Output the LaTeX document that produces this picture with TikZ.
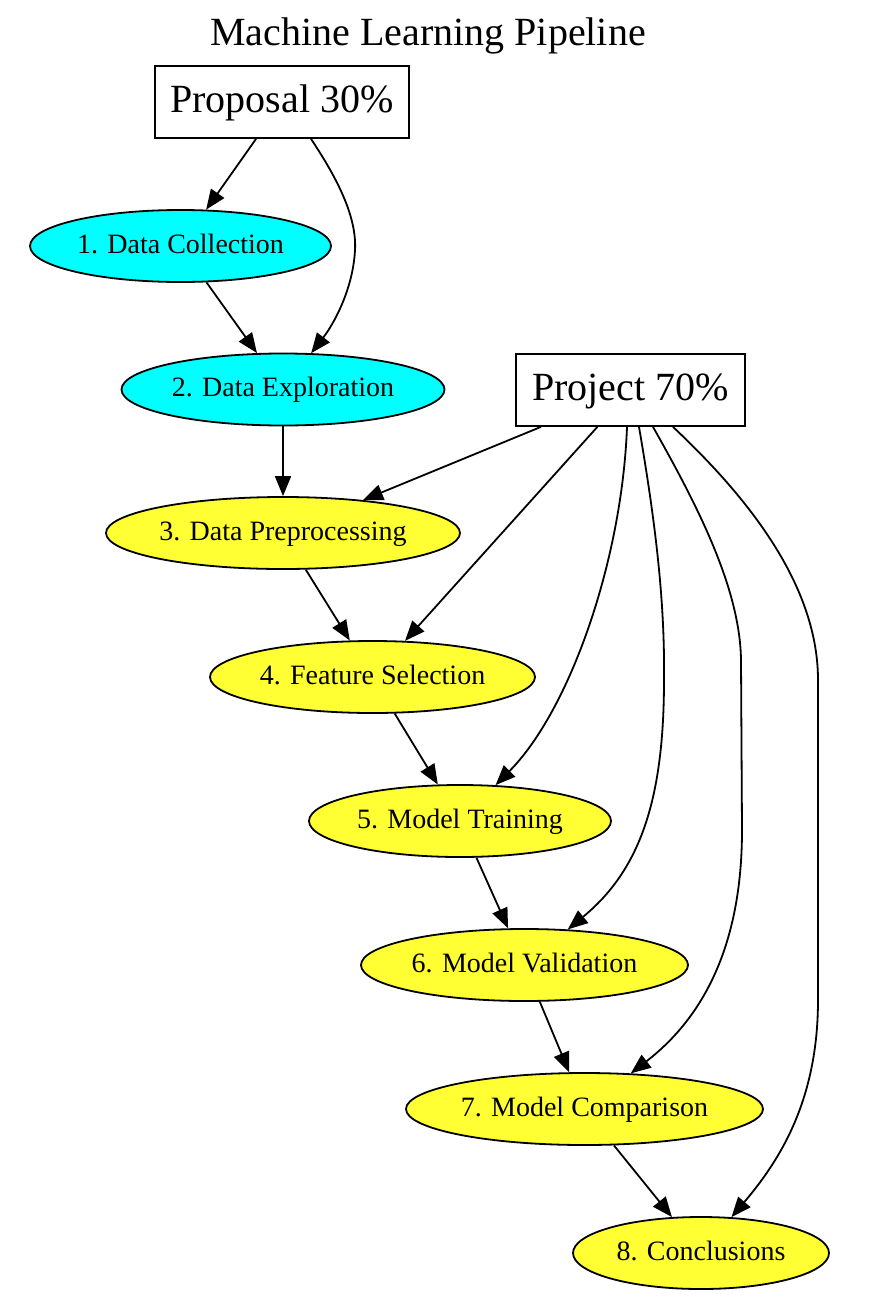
\documentclass[tikz,border=0pt]{standalone}
\usepackage{fontspec}
\setmainfont{Liberation Serif}
\usetikzlibrary{shapes.geometric, arrows.meta}
\definecolor{stagecyan}{RGB}{0,255,255}
\definecolor{stageyellow}{RGB}{255,255,51}

\begin{document}
\begin{tikzpicture}[x=1pt, y=-1pt, line width=1.8pt,
  stage/.style={draw, ellipse, inner sep=0pt, minimum height=72pt,
    text height=19pt, text depth=5pt, font=\fontsize{28}{34}\selectfont},
  part/.style={draw, rectangle, inner sep=0pt, minimum height=72pt,
    text height=28pt, text depth=8pt, font=\fontsize{40}{48}\selectfont},
  flow/.style={-{Triangle[length=20pt, width=16pt]}}]
  \useasboundingbox (0,0) rectangle (884,1304);
  %
  \node[text height=28pt, text depth=8pt, font=\fontsize{40}{48}\selectfont] (title) at (428,35) {Machine Learning Pipeline};
  \node[part, minimum width=254pt] (pp) at (282,102) {Proposal 30\%};
  \node[part, minimum width=229pt] (pj) at (630.5,390) {Project 70\%};
  %
  \node[stage, fill=stagecyan, minimum width=301pt] (dc) at (180.5,246) {1. Data Collection};
  \node[stage, fill=stagecyan, minimum width=323pt] (de) at (283,389.5) {2. Data Exploration};
  \node[stage, fill=stageyellow, minimum width=354pt] (dp) at (283,533) {3. Data Preprocessing};
  \node[stage, fill=stageyellow, minimum width=325pt] (fs) at (372.5,677) {4. Feature Selection};
  \node[stage, fill=stageyellow, minimum width=302pt] (mt) at (460,821) {5. Model Training};
  \node[stage, fill=stageyellow, minimum width=327pt] (mv) at (524.5,965) {6. Model Validation};
  \node[stage, fill=stageyellow, minimum width=357pt] (mc) at (584.5,1109) {7. Model Comparison};
  \node[stage, fill=stageyellow, minimum width=256pt] (cl) at (701,1253) {8. Conclusions};
  %
  \draw[flow] (pp) -- (dc);
  \draw[flow] ([xshift=29pt]pp.south) .. controls (335,175) and (357,215) .. (355,250)
    .. controls (353,290) and (333,325) .. (de);
  \draw[flow] (dc) -- (de);
  \draw[flow] (de) -- (dp);
  \draw[flow] (dp) -- (fs);
  \draw[flow] (fs) -- (mt);
  \draw[flow] (mt) -- (mv);
  \draw[flow] (mv) -- (mc);
  \draw[flow] (mc) -- (cl);
  %
  \draw[flow] (pj) -- (dp);
  \draw[flow] (pj) -- (fs);
  \draw[flow] ([xshift=-3.5pt]pj.south) .. controls (622,560) and (570,710) .. (mt);
  \draw[flow] ([xshift=8.5pt]pj.south) .. controls (655,520) and (665,600) .. (664,680)
    .. controls (664,800) and (640,870) .. (mv);
  \draw[flow] ([xshift=22.5pt]pj.south) .. controls (700,510) and (740,590) .. (741,660)
    -- (742,830) .. controls (742,950) and (700,1020) .. (mc);
  \draw[flow] ([xshift=42.5pt]pj.south) .. controls (740,490) and (818,580) .. (818,680)
    -- (818,1000) .. controls (818,1100) and (780,1160) .. (cl);
\end{tikzpicture}
\end{document}
